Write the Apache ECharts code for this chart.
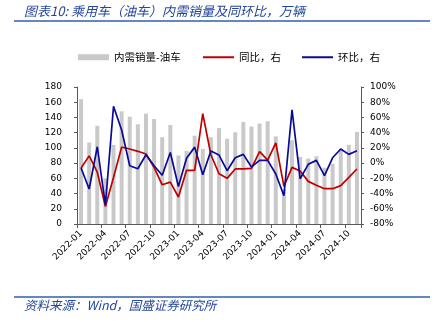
<!DOCTYPE html>
<html>
<head>
<meta charset="utf-8">
<script src="https://cdn.jsdelivr.net/npm/echarts@6/dist/echarts.min.js"></script>
<style>
  html, body { margin: 0; padding: 0; background: #fff; }
  #chart { width: 435px; height: 323px; }
</style>
</head>
<body>
<div id="chart"></div>
<script>
// Monthly categories, 2022-01 .. 2024-11
const months = [
  '2022-01','2022-02','2022-03','2022-04','2022-05','2022-06','2022-07','2022-08','2022-09','2022-10','2022-11','2022-12',
  '2023-01','2023-02','2023-03','2023-04','2023-05','2023-06','2023-07','2023-08','2023-09','2023-10','2023-11','2023-12',
  '2024-01','2024-02','2024-03','2024-04','2024-05','2024-06','2024-07','2024-08','2024-09','2024-10','2024-11'
];

// Domestic sales of ICE passenger cars, 10k units (left axis)
const sales = [
  164, 107, 129, 60, 104, 148, 141, 131, 145, 138, 114, 130,
  90, 96, 116, 98.5, 114, 126, 112, 120.5, 134, 128, 132, 135,
  115, 46, 110, 88, 86, 89, 74, 79, 98, 104, 121
];

// Year-on-year change, % (right axis)
const yoy = [
  -6.4, 9.5, -12, -57, -19, 21, 18.5, 15.5, 12, -5.5, -28.5, -25,
  -44.5, -9.5, -9.5, 65, 11, -14, -20, -7.7, -7.7, -7, 15, 4,
  26.5, -30.5, -5.6, -10.4, -24, -29, -33.6, -33.6, -29.6, -18.7, -7.7
];

// Month-on-month change, % (right axis)
const mom = [
  -6.4, -34, 21.5, -55, 74.6, 43.5, -3.4, -7.4, 11, -3.4, -16, 14,
  -30.8, 6.5, 21, -15.3, 16, 10.6, -10, 7, 11.5, -5, 3.6, 3.6,
  -14.3, -42.8, 70, -20.5, -1.6, 3.6, -16.5, 7, 18.5, 11.5, 16.3
];

const titleText = '图表10: 乘用车（油车）内需销量及同环比，万辆';
const sourceText = '资料来源：Wind，国盛证券研究所';
const seriesNames = ['内需销量-油车', '同比，右', '环比，右'];

const axisColor = '#595959';
const numFont = 'DejaVu Sans, Verdana, sans-serif';
const cjkFont = '"Noto Sans CJK SC", "DejaVu Sans", sans-serif';
const brandBlue = '#24479b';
const ruleBlue = '#2f5fae';
const barColor = '#c9c9c9';
const yoyColor = '#c00000';
const momColor = '#0a0a9a';

const everyThird = (idx) => idx % 3 === 0;

const legendText = { fontFamily: cjkFont, fontSize: 10.5, color: '#000' };

const chart = echarts.init(document.getElementById('chart'), null, { renderer: 'canvas' });

chart.setOption({
  animation: false,
  backgroundColor: '#fff',
  grid: { left: 77, right: 74, top: 87, bottom: 99, containLabel: false },
  legend: [
    {
      // bar swatch
      left: 73,
      top: 47,
      itemWidth: 31,
      itemHeight: 6,
      textStyle: legendText,
      data: [{ name: seriesNames[0], icon: 'rect' }]
    },
    {
      // thin line swatches for the two ratio series
      left: 198,
      top: 47,
      itemWidth: 31,
      itemHeight: 2,
      itemGap: 21,
      textStyle: legendText,
      data: [
        { name: seriesNames[1], icon: 'rect' },
        { name: seriesNames[2], icon: 'rect' }
      ]
    }
  ],
  xAxis: {
    type: 'category',
    data: months,
    boundaryGap: true,
    axisLine: { lineStyle: { color: axisColor, width: 1 } },
    axisTick: { show: true, interval: everyThird, length: 4, lineStyle: { color: axisColor } },
    axisLabel: {
      interval: everyThird,
      rotate: 45,
      margin: 8,
      fontFamily: numFont,
      fontSize: 9,
      color: '#000'
    },
    splitLine: { show: false }
  },
  yAxis: [
    {
      type: 'value',
      min: 0,
      max: 180,
      interval: 20,
      axisLine: { show: true, lineStyle: { color: axisColor } },
      axisTick: { show: true, length: 3, lineStyle: { color: axisColor } },
      axisLabel: { fontFamily: numFont, fontSize: 9, color: '#000', margin: 15 },
      splitLine: { show: false }
    },
    {
      type: 'value',
      min: -80,
      max: 100,
      interval: 20,
      position: 'right',
      axisLine: { show: true, lineStyle: { color: axisColor } },
      axisTick: { show: true, length: 3, lineStyle: { color: axisColor } },
      axisLabel: { fontFamily: numFont, fontSize: 9, color: '#000', margin: 9, formatter: '{value}%' },
      splitLine: { show: false }
    }
  ],
  series: [
    {
      name: seriesNames[0],
      type: 'bar',
      yAxisIndex: 0,
      data: sales,
      barWidth: 4,
      itemStyle: { color: barColor }
    },
    {
      name: seriesNames[1],
      type: 'line',
      yAxisIndex: 1,
      data: yoy,
      symbol: 'none',
      lineStyle: { color: yoyColor, width: 1.7 },
      itemStyle: { color: yoyColor }
    },
    {
      name: seriesNames[2],
      type: 'line',
      yAxisIndex: 1,
      data: mom,
      symbol: 'none',
      lineStyle: { color: momColor, width: 1.7 },
      itemStyle: { color: momColor }
    }
  ],
  graphic: [
    {
      type: 'text',
      left: 24,
      top: 5,
      style: {
        text: titleText,
        font: 'italic 13px ' + cjkFont,
        fill: brandBlue
      }
    },
    {
      type: 'line',
      shape: { x1: 14, y1: 21, x2: 430, y2: 21 },
      style: { stroke: ruleBlue, lineWidth: 1.6 }
    },
    {
      type: 'line',
      shape: { x1: 14, y1: 297, x2: 430, y2: 297 },
      style: { stroke: ruleBlue, lineWidth: 1.6 }
    },
    {
      type: 'text',
      left: 24,
      top: 299,
      style: {
        text: sourceText,
        font: 'italic 12.5px ' + cjkFont,
        fill: brandBlue
      }
    }
  ]
});
</script>
</body>
</html>
